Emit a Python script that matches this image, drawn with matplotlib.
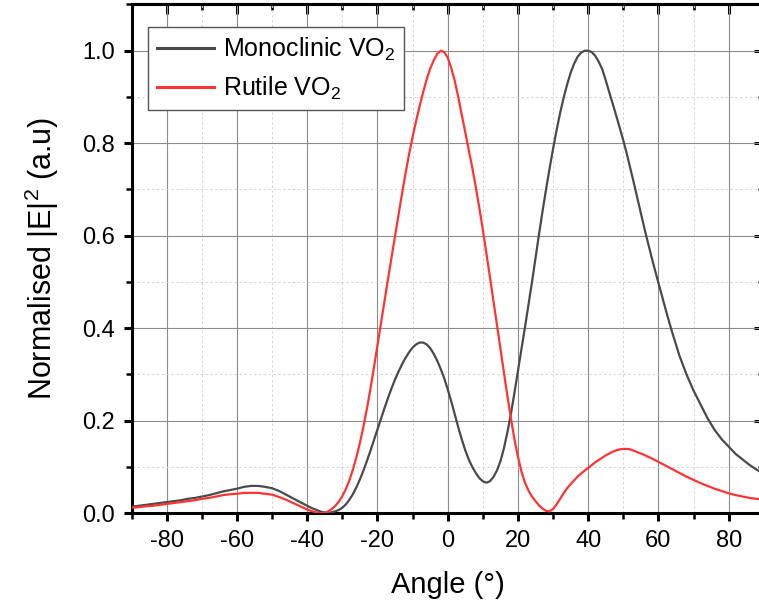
import matplotlib
matplotlib.use("Agg")
import matplotlib.pyplot as plt
from matplotlib.ticker import MultipleLocator, FormatStrFormatter

angles = list(range(-90, -40, 2)) + list(range(-40, 65)) + list(range(66, 91, 2))

monoclinic = [
    # -90 .. -42 (step 2)
    0.014, 0.016, 0.018, 0.020, 0.022, 0.024, 0.026, 0.028, 0.031, 0.033,
    0.036, 0.039, 0.043, 0.047, 0.050, 0.053, 0.057, 0.059, 0.059, 0.057,
    0.054, 0.048, 0.040, 0.032, 0.024,
    # -40 .. 64 (step 1)
    0.016, 0.012, 0.009, 0.006, 0.003, 0.0015, 0.001, 0.002, 0.004, 0.007,
    0.012, 0.019, 0.029, 0.041, 0.056, 0.073, 0.092, 0.113, 0.135, 0.158,
    0.181, 0.204, 0.227, 0.249, 0.270, 0.289, 0.306, 0.322, 0.336, 0.348,
    0.358, 0.365, 0.369, 0.369, 0.365, 0.357, 0.345, 0.330, 0.312, 0.292,
    0.268, 0.242, 0.214, 0.186, 0.160, 0.136, 0.116, 0.100, 0.087, 0.076,
    0.069, 0.066, 0.069, 0.078, 0.092, 0.112, 0.140, 0.175, 0.215, 0.260,
    0.308, 0.355, 0.402, 0.451, 0.500, 0.552, 0.603, 0.653, 0.700, 0.745,
    0.788, 0.828, 0.865, 0.898, 0.927, 0.952, 0.972, 0.987, 0.996, 1.000,
    1.000, 0.997, 0.989, 0.976, 0.960, 0.936, 0.910, 0.885, 0.859, 0.833,
    0.806, 0.777, 0.746, 0.714, 0.681, 0.648, 0.616, 0.585, 0.555, 0.526,
    0.498, 0.470, 0.442, 0.415, 0.389,
    # 66 .. 90 (step 2)
    0.340, 0.300, 0.265, 0.235, 0.205, 0.180, 0.160, 0.144, 0.128, 0.116,
    0.104, 0.094, 0.085,
]

rutile = [
    # -90 .. -42 (step 2)
    0.012, 0.013, 0.015, 0.016, 0.018, 0.020, 0.022, 0.024, 0.026, 0.028,
    0.031, 0.033, 0.036, 0.039, 0.041, 0.042, 0.044, 0.044, 0.044, 0.042,
    0.040, 0.035, 0.029, 0.022, 0.015,
    # -40 .. 64 (step 1)
    0.008, 0.005, 0.003, 0.001, 0.000, 0.001, 0.004, 0.009, 0.016, 0.025,
    0.037, 0.052, 0.071, 0.094, 0.121, 0.152, 0.187, 0.226, 0.269, 0.315,
    0.363, 0.411, 0.459, 0.506, 0.553, 0.599, 0.645, 0.691, 0.735, 0.776,
    0.813, 0.848, 0.880, 0.910, 0.938, 0.961, 0.979, 0.993, 1.000, 0.997,
    0.985, 0.963, 0.935, 0.900, 0.862, 0.825, 0.787, 0.747, 0.705, 0.660,
    0.613, 0.563, 0.512, 0.460, 0.408, 0.356, 0.304, 0.253, 0.205, 0.160,
    0.122, 0.090, 0.066, 0.049, 0.036, 0.026, 0.017, 0.010, 0.005, 0.004,
    0.009, 0.019, 0.031, 0.043, 0.054, 0.063, 0.071, 0.079, 0.086, 0.092,
    0.098, 0.104, 0.110, 0.115, 0.120, 0.125, 0.129, 0.133, 0.136, 0.138,
    0.139, 0.139, 0.138, 0.135, 0.132, 0.129, 0.126, 0.122, 0.119, 0.115,
    0.111, 0.107, 0.103, 0.099, 0.095,
    # 66 .. 90 (step 2)
    0.087, 0.079, 0.072, 0.065, 0.059, 0.053, 0.048, 0.043, 0.039, 0.036,
    0.033, 0.031, 0.029,
]

series_labels = ["Monoclinic VO$_2$", "Rutile VO$_2$"]
series_colors = ["#4a4a4a", "#ff3333"]

plt.rcParams['font.family'] = ['Liberation Sans', 'DejaVu Sans']
plt.rcParams['mathtext.fontset'] = 'custom'
plt.rcParams['mathtext.rm'] = 'Liberation Sans'
plt.rcParams['mathtext.it'] = 'Liberation Sans'
plt.rcParams['axes.unicode_minus'] = False

fig = plt.figure(figsize=(7.59, 6.09), dpi=100)
ax = fig.add_axes([131.6 / 759, 95.8 / 609, 632.2 / 759, 508.75 / 609])

ax.plot(angles, monoclinic, color=series_colors[0], lw=1.6, label=series_labels[0], zorder=3)
ax.plot(angles, rutile, color=series_colors[1], lw=1.6, label=series_labels[1], zorder=3)

ax.set_xlim(-90, 90)
ax.set_ylim(0, 1.1)
ax.xaxis.set_major_locator(MultipleLocator(20))
ax.xaxis.set_minor_locator(MultipleLocator(10))
ax.yaxis.set_major_locator(MultipleLocator(0.2))
ax.yaxis.set_minor_locator(MultipleLocator(0.1))
ax.yaxis.set_major_formatter(FormatStrFormatter('%.1f'))

ax.grid(which='major', color='#8c8c8c', lw=0.8, ls='-', zorder=0)
ax.grid(which='minor', color='#d4d4d4', lw=0.7, ls=(0, (2.5, 2.5)), zorder=0)
ax.set_axisbelow(True)

for s in ax.spines.values():
    s.set_linewidth(2.2)
    s.set_color('black')

ax.tick_params(axis='both', which='major', direction='out', length=6, width=2.2,
               labelsize=17, pad=6, top=False, right=False)
ax.tick_params(axis='both', which='minor', direction='out', length=4, width=1.8,
               top=False, right=False)

# mirrored ticks pointing inward on the top and right
axt = ax.secondary_xaxis('top')
axt.xaxis.set_major_locator(MultipleLocator(20))
axt.xaxis.set_minor_locator(MultipleLocator(10))
axt.tick_params(which='major', direction='in', length=7, width=2.2, labeltop=False)
axt.tick_params(which='minor', direction='in', length=4, width=1.8)
axt.spines['top'].set_linewidth(2.2)
axr = ax.secondary_yaxis('right')
axr.yaxis.set_major_locator(MultipleLocator(0.2))
axr.yaxis.set_minor_locator(MultipleLocator(0.1))
axr.tick_params(which='major', direction='in', length=7, width=2.2, labelright=False)
axr.tick_params(which='minor', direction='in', length=4, width=1.8)
axr.spines['right'].set_linewidth(2.2)

ax.set_xlabel('Angle (°)', fontsize=21, labelpad=14)
ax.set_ylabel('Normalised |E|$^2$ (a.u)', fontsize=22, labelpad=15)

leg = ax.legend(loc='upper left', bbox_to_anchor=(0.026, 0.955), fontsize=18,
                frameon=True, fancybox=False, edgecolor='#555555', framealpha=1,
                handlelength=2.3, handletextpad=0.35, borderpad=0.35,
                labelspacing=0.45, borderaxespad=0)
leg.get_frame().set_linewidth(1.0)
for line in leg.get_lines():
    line.set_linewidth(2.2)

fig.savefig('out.png', dpi=100)
